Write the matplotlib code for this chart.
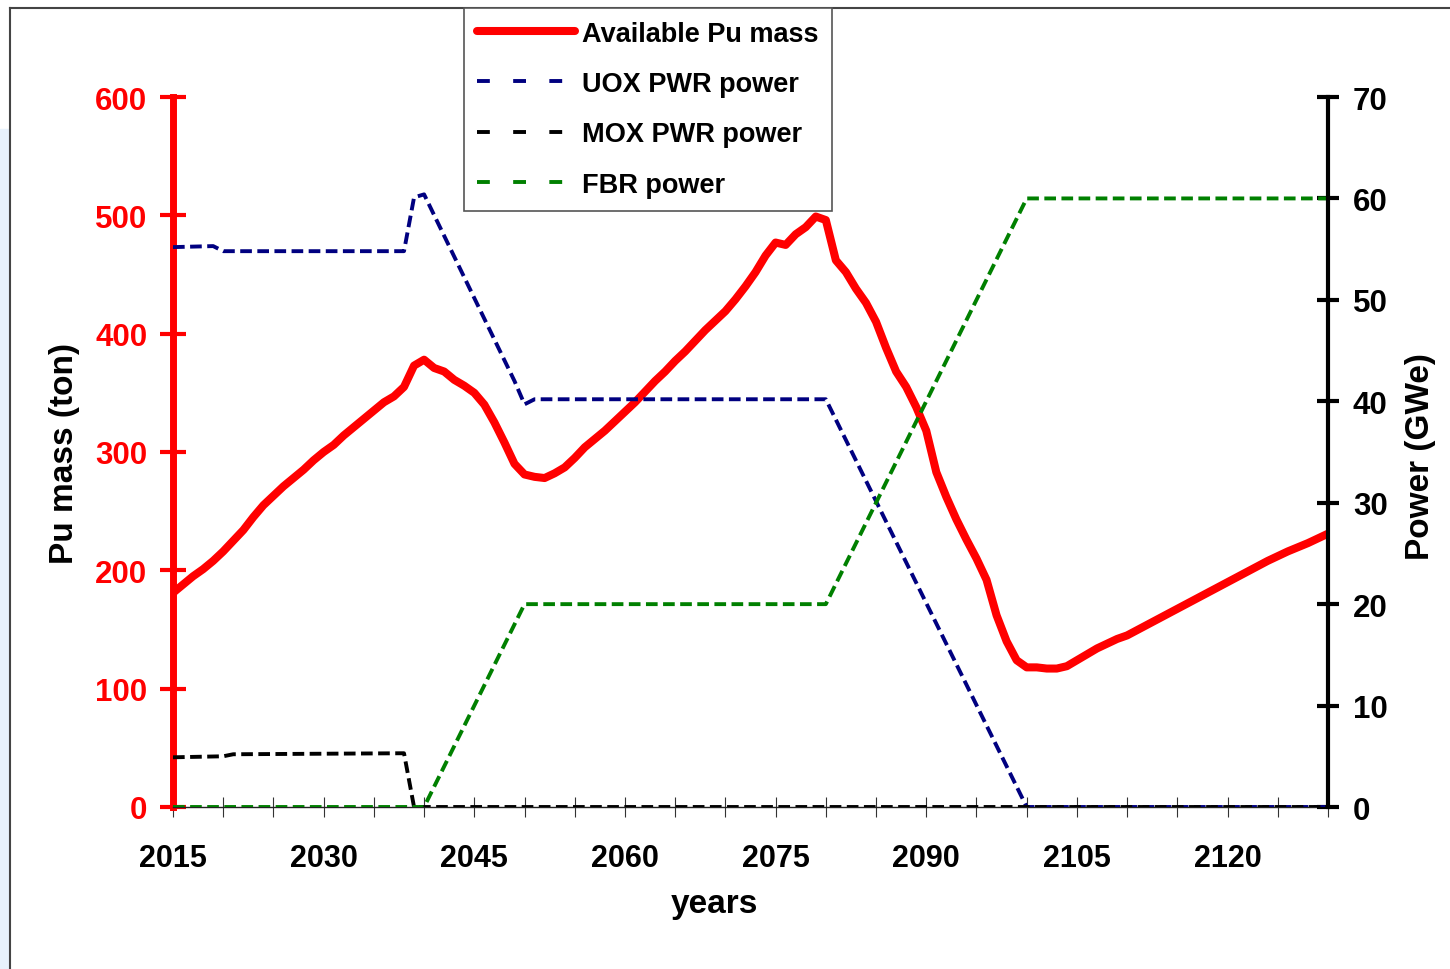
import matplotlib
matplotlib.use("Agg")
import matplotlib.pyplot as plt
from matplotlib.lines import Line2D
from matplotlib.patches import Rectangle

plt.rcParams['font.family'] = ['Liberation Sans', 'DejaVu Sans']
plt.rcParams['font.weight'] = 'bold'

# Available Pu mass (ton), left axis
pu_years = [2015, 2016, 2017, 2018, 2019, 2020, 2021, 2022, 2023, 2024,
            2025, 2026, 2027, 2028, 2029, 2030, 2031, 2032, 2033, 2034,
            2035, 2036, 2037, 2038, 2039, 2040, 2041, 2042, 2043, 2044,
            2045, 2046, 2047, 2048, 2049, 2050, 2051, 2052, 2053, 2054,
            2055, 2056, 2057, 2058, 2059, 2060, 2061, 2062, 2063, 2064,
            2065, 2066, 2067, 2068, 2069, 2070, 2071, 2072, 2073, 2074,
            2075, 2076, 2077, 2078, 2079, 2080, 2081, 2082, 2083, 2084,
            2085, 2086, 2087, 2088, 2089, 2090, 2091, 2092, 2093, 2094,
            2095, 2096, 2097, 2098, 2099, 2100, 2101, 2102, 2103, 2104,
            2105, 2106, 2107, 2108, 2109, 2110, 2112, 2114, 2116, 2118,
            2120, 2122, 2124, 2126, 2128, 2130]
pu_mass = [181, 188, 195, 201, 208, 216, 225, 234, 245, 255,
           263, 271, 278, 285, 293, 300, 306, 314, 321, 328,
           335, 342, 347, 355, 373, 378, 371, 368, 361, 356,
           350, 340, 325, 308, 290, 281, 279, 278, 282, 287,
           295, 304, 311, 318, 326, 334, 342, 351, 360, 368,
           377, 385, 394, 403, 411, 419, 429, 440, 452, 466,
           477, 475, 484, 490, 499, 496, 462, 452, 438, 426,
           410, 388, 368, 355, 338, 318, 283, 262, 243, 226,
           210, 192, 162, 140, 124, 118, 118, 117, 117, 119,
           124, 129, 134, 138, 142, 145, 154, 163, 172, 181,
           190, 199, 208, 216, 223, 231]

# Power (GWe), right axis
uox_years = [2015, 2019, 2020, 2038, 2039, 2040, 2049, 2050, 2051, 2080, 2100, 2130]
uox_power = [55.2, 55.3, 54.8, 54.8, 60.1, 60.4, 42.0, 39.7, 40.2, 40.2, 0, 0]

mox_years = [2015, 2020, 2021, 2038, 2039, 2130]
mox_power = [4.9, 5.0, 5.2, 5.3, 0, 0]

fbr_years = [2015, 2040, 2050, 2080, 2100, 2130]
fbr_power = [0, 0, 20, 20, 60, 60]

year_ticks = list(range(2015, 2121, 15))
minor_ticks = list(range(2015, 2131, 5))
mass_ticks = [0, 100, 200, 300, 400, 500, 600]
power_ticks = [0, 10, 20, 30, 40, 50, 60, 70]

W, H = 1450, 970
fig = plt.figure(figsize=(W / 100, H / 100), dpi=100)

# outer frame and the light strip on the left edge
fig.patches.append(Rectangle((0, 0), 9 / W, 1 - 130 / H, transform=fig.transFigure,
                             color='#e8f2fc', zorder=0))
fig.add_artist(Line2D([9.5 / W, 1], [1 - 8.5 / H, 1 - 8.5 / H], color='#444444', lw=1.5))
fig.add_artist(Line2D([9.5 / W, 9.5 / W], [0, 1 - 8.5 / H], color='#444444', lw=1.5))

ax = fig.add_axes([173 / W, 162 / H, 1155 / W, 710 / H])
ax.patch.set_alpha(0)
ax.plot(pu_years, pu_mass, color='red', lw=5.8, solid_joinstyle='round',
        solid_capstyle='butt', zorder=3)
ax.set_xlim(2015, 2130)
ax.set_ylim(0, 600)

ax2 = ax.twinx()
dash = (3.0, 1.4)
ax2.plot(uox_years, uox_power, color='#000080', lw=2.8, dashes=dash)
ax2.plot(mox_years, mox_power, color='black', lw=2.8, dashes=dash)
ax2.plot(fbr_years, fbr_power, color='#008000', lw=2.8, dashes=dash)
ax2.set_ylim(0, 70)

for s in ['top', 'right']:
    ax.spines[s].set_visible(False)
ax.spines['left'].set_color('red')
ax.spines['left'].set_linewidth(5)
ax.spines['bottom'].set_color('#222222')
ax.spines['bottom'].set_linewidth(1)
for s in ['top', 'left', 'bottom']:
    ax2.spines[s].set_visible(False)
ax2.spines['right'].set_color('black')
ax2.spines['right'].set_linewidth(3)

ax.set_yticks(mass_ticks)
ax.tick_params(axis='y', direction='inout', length=19, width=3, color='red',
               labelcolor='red', labelsize=22.5, pad=9)
ax2.set_yticks(power_ticks)
ax2.tick_params(axis='y', direction='inout', length=16, width=3, color='black',
                labelcolor='black', labelsize=22.5, pad=10)

ax.set_xticks(year_ticks)
ax.set_xticks(minor_ticks, minor=True)
ax.tick_params(axis='x', which='both', direction='inout', length=14, width=0.8,
               color='#333333', labelsize=22, pad=19)
for lab in ax.get_xticklabels() + ax.get_yticklabels() + ax2.get_yticklabels():
    lab.set_fontweight('bold')

fig.text(65 / W, 1 - 453 / H, 'Pu mass (ton)', rotation=90, ha='center', va='center',
         fontsize=24, fontweight='bold')
fig.text(1421 / W, 1 - 457 / H, 'Power (GWe)', rotation=90, ha='center', va='center',
         fontsize=24, fontweight='bold')
fig.text(714 / W, 1 - 913 / H, 'years', ha='center', va='baseline',
         fontsize=24, fontweight='bold')

handles = [
    Line2D([], [], color='red', lw=5.8, solid_capstyle='round'),
    Line2D([], [], color='#000080', lw=2.8, dashes=(3.3, 6.0)),
    Line2D([], [], color='black', lw=2.8, dashes=(3.3, 6.0)),
    Line2D([], [], color='#008000', lw=2.8, dashes=(3.3, 6.0)),
]
labels = ['Available Pu mass', 'UOX PWR power', 'MOX PWR power', 'FBR power']
leg = fig.legend(handles, labels, loc='upper left',
                 bbox_to_anchor=(464 / W, 1 - 8.5 / H), borderaxespad=0,
                 prop={'size': 19.5, 'weight': 'bold'}, frameon=True, fancybox=False,
                 edgecolor='#555555', framealpha=1, handlelength=3.6,
                 handletextpad=0.28, borderpad=0.48, labelspacing=0.9)
leg.get_frame().set_linewidth(1.2)

fig.savefig('out.png', dpi=100)
